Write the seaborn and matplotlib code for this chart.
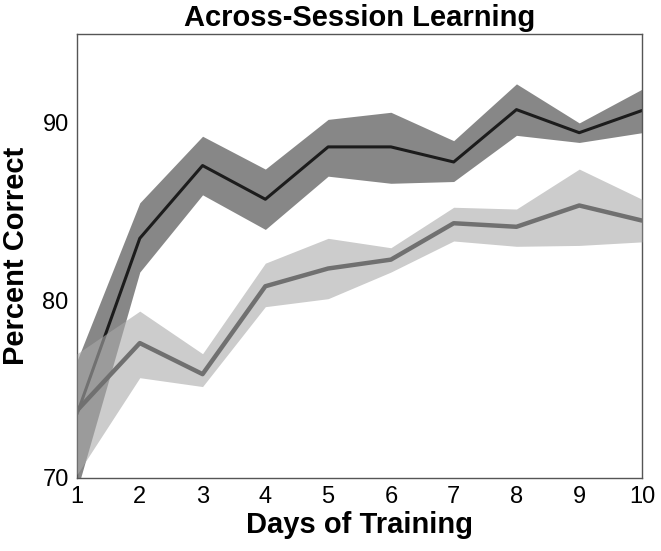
import matplotlib
matplotlib.use('Agg')
import matplotlib.pyplot as plt
import seaborn as sns
import pandas as pd

# days of training
days = [1, 2, 3, 4, 5, 6, 7, 8, 9, 10]

# dark group: mean and shaded band
dark_mean = [73.6, 83.5, 87.6, 85.7, 88.65, 88.65, 87.8, 90.75, 89.45, 90.7]
dark_low = [69.3, 81.6, 85.95, 84.0, 87.0, 86.6, 86.7, 89.3, 88.9, 89.45]
dark_high = [76.6, 85.5, 89.25, 87.4, 90.2, 90.6, 89.0, 92.2, 90.0, 91.9]

# light group: mean and shaded band
light_mean = [73.8, 77.6, 75.85, 80.8, 81.8, 82.3, 84.35, 84.15, 85.35, 84.5]
light_low = [70.2, 75.65, 75.15, 79.65, 80.1, 81.6, 83.35, 83.05, 83.1, 83.3]
light_high = [77.0, 79.4, 77.0, 82.1, 83.5, 82.97, 85.25, 85.15, 87.4, 85.7]

yticks = [70, 80, 90]

sns.set_style("white")
plt.rcParams['font.family'] = ['Liberation Sans', 'DejaVu Sans']
plt.rcParams['text.color'] = 'black'
plt.rcParams['axes.labelcolor'] = 'black'
plt.rcParams['xtick.labelcolor'] = 'black'
plt.rcParams['ytick.labelcolor'] = 'black'

df = pd.DataFrame({'day': days, 'dark': dark_mean, 'light': light_mean})

fig = plt.figure(figsize=(6.61, 5.51), dpi=100)
ax = fig.add_axes([0.1165, 0.1325, 0.8548, 0.8055])

ax.fill_between(days, dark_low, dark_high, color='#878787', linewidth=0, zorder=1)
sns.lineplot(data=df, x='day', y='dark', color='#1c1c1c', linewidth=2.2, ax=ax, zorder=2)
ax.fill_between(days, light_low, light_high, color='#aaaaaa', alpha=0.6, linewidth=0, zorder=3)
sns.lineplot(data=df, x='day', y='light', color='#707070', linewidth=3.2, ax=ax, zorder=4)

ax.set_xlim(1, 10)
ax.set_ylim(70, 95)
ax.set_xticks(days)
ax.set_yticks(yticks)
ax.tick_params(direction='in', length=4, width=0.8, color='#444444', labelsize=17, pad=6)

for s in ax.spines.values():
    s.set_color('#555555')
    s.set_linewidth(1.0)

ax.set_title('Across-Session Learning', fontsize=21, fontweight='bold', pad=6, color='black')
ax.set_xlabel('Days of Training', fontsize=21, fontweight='bold', labelpad=2)
ax.set_ylabel('Percent Correct', fontsize=21, fontweight='bold')
ax.yaxis.set_label_coords(-0.083, 0.5)

fig.savefig('out.png', dpi=100)
